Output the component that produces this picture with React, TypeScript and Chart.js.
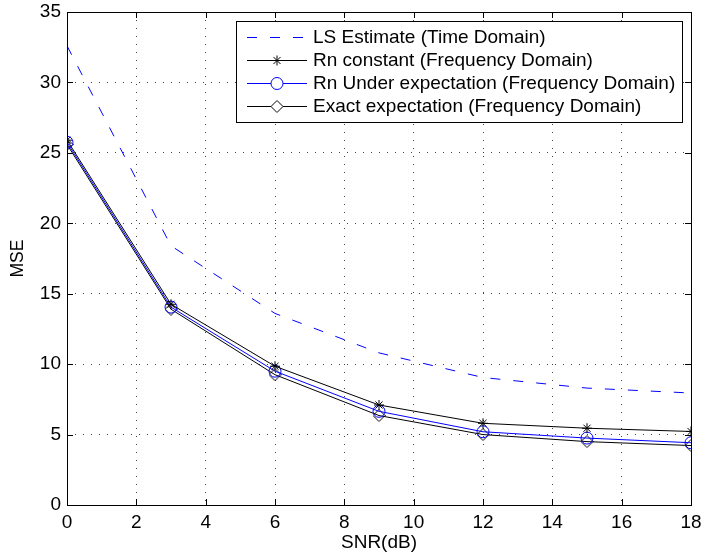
import React, { useEffect, useRef } from "react";
import { Chart, registerables } from "chart.js";

Chart.register(...registerables);

const snr = [0, 3, 6, 9, 12, 15, 18];
const lsEstimate = [32.6, 18.4, 13.6, 10.8, 9.05, 8.3, 7.95];
const rnConstant = [25.9, 14.25, 9.85, 7.1, 5.8, 5.45, 5.22];
const rnUnderExp = [25.75, 14.05, 9.5, 6.65, 5.2, 4.75, 4.42];
const exactExp = [25.6, 13.9, 9.25, 6.35, 5.0, 4.5, 4.22];

const xTicks = [0, 2, 4, 6, 8, 10, 12, 14, 16, 18];
const yTicks = [0, 5, 10, 15, 20, 25, 30, 35];

const seriesLabels = [
  "LS Estimate (Time Domain)",
  "Rn constant (Frequency Domain)",
  "Rn Under expectation (Frequency Domain)",
  "Exact expectation (Frequency Domain)",
];

const FONT = "'Liberation Sans', Arial, sans-serif";

function makeDiamond(): HTMLCanvasElement {
  const c = document.createElement("canvas");
  c.width = 13;
  c.height = 13;
  const ctx = c.getContext("2d")!;
  ctx.strokeStyle = "#000";
  ctx.lineWidth = 1;
  ctx.beginPath();
  ctx.moveTo(6.5, 0.5);
  ctx.lineTo(12.5, 6.5);
  ctx.lineTo(6.5, 12.5);
  ctx.lineTo(0.5, 6.5);
  ctx.closePath();
  ctx.stroke();
  return c;
}

export default function App() {
  const ref = useRef<HTMLCanvasElement | null>(null);

  useEffect(() => {
    if (!ref.current) return;
    const diamond = makeDiamond();

    const framePlugin = {
      id: "frame",
      afterDraw(chart: any) {
        const { ctx, chartArea } = chart;
        const { left, right, top, bottom } = chartArea;
        const xs = chart.scales.x;
        const ys = chart.scales.y;
        ctx.save();
        ctx.strokeStyle = "#000";
        ctx.lineWidth = 1;
        ctx.setLineDash([]);
        const tl = 6;
        ctx.beginPath();
        xTicks.forEach((v) => {
          const px = Math.round(xs.getPixelForValue(v)) + 0.5;
          ctx.moveTo(px, bottom);
          ctx.lineTo(px, bottom - tl);
          ctx.moveTo(px, top);
          ctx.lineTo(px, top + tl);
        });
        yTicks.forEach((v) => {
          const py = Math.round(ys.getPixelForValue(v)) + 0.5;
          ctx.moveTo(left, py);
          ctx.lineTo(left + tl, py);
          ctx.moveTo(right, py);
          ctx.lineTo(right - tl, py);
        });
        ctx.stroke();
        ctx.strokeRect(Math.round(left) + 0.5, Math.round(top) + 0.5, Math.round(right - left), Math.round(bottom - top));

        // legend
        const bx = 236.5, by = 21.5, bw = 446, bh = 101;
        ctx.fillStyle = "#fff";
        ctx.fillRect(bx, by, bw, bh);
        ctx.strokeRect(bx, by, bw, bh);
        const rows = [37, 60, 83, 106];
        const x1 = 247, x2 = 307, xm = 277;
        chart.data.datasets.forEach((ds: any, i: number) => {
          const y = rows[i] + 0.5;
          ctx.save();
          ctx.strokeStyle = ds.borderColor;
          ctx.lineWidth = 1;
          ctx.setLineDash(ds.borderDash || []);
          ctx.beginPath();
          ctx.moveTo(x1, y);
          ctx.lineTo(x2, y);
          ctx.stroke();
          ctx.setLineDash([]);
          if (ds.pointStyle === "star") {
            const r = 5;
            ctx.beginPath();
            for (let k = 0; k < 4; k++) {
              const a = (k * Math.PI) / 4;
              ctx.moveTo(xm - r * Math.cos(a), y - r * Math.sin(a));
              ctx.lineTo(xm + r * Math.cos(a), y + r * Math.sin(a));
            }
            ctx.strokeStyle = ds.pointBorderColor;
            ctx.stroke();
          } else if (ds.pointStyle === "circle") {
            ctx.beginPath();
            ctx.arc(xm, y, 6, 0, Math.PI * 2);
            ctx.fillStyle = "#fff";
            ctx.fill();
            ctx.strokeStyle = ds.pointBorderColor;
            ctx.stroke();
          } else if (ds.pointStyle instanceof HTMLCanvasElement) {
            ctx.fillStyle = "#fff";
            ctx.beginPath();
            ctx.moveTo(xm, y - 6);
            ctx.lineTo(xm + 6, y);
            ctx.lineTo(xm, y + 6);
            ctx.lineTo(xm - 6, y);
            ctx.closePath();
            ctx.fill();
            ctx.drawImage(ds.pointStyle, xm - 6.5, y - 6.5);
          }
          ctx.restore();
          ctx.fillStyle = "#000";
          ctx.font = `19px ${FONT}`;
          ctx.textBaseline = "middle";
          ctx.textAlign = "left";
          ctx.fillText(seriesLabels[i], 313, rows[i] + 1);
        });
        ctx.restore();
      },
    };

    const chart = new Chart(ref.current, {
      type: "line",
      data: {
        datasets: [
          {
            label: seriesLabels[0],
            data: snr.map((x, i) => ({ x, y: lsEstimate[i] })),
            borderColor: "#0000ff",
            borderWidth: 1,
            borderDash: [10, 13],
            pointRadius: 0,
            pointStyle: false as any,
            fill: false,
          },
          {
            label: seriesLabels[1],
            data: snr.map((x, i) => ({ x, y: rnConstant[i] })),
            borderColor: "#000000",
            borderWidth: 1,
            pointStyle: "star",
            pointRadius: 5,
            pointBorderColor: "#000000",
            pointBorderWidth: 1,
            pointBackgroundColor: "#000",
            fill: false,
          },
          {
            label: seriesLabels[2],
            data: snr.map((x, i) => ({ x, y: rnUnderExp[i] })),
            borderColor: "#0000ff",
            borderWidth: 1,
            pointStyle: "circle",
            pointRadius: 6,
            pointBorderColor: "#0000ff",
            pointBorderWidth: 1,
            pointBackgroundColor: "rgba(0,0,0,0)",
            fill: false,
          },
          {
            label: seriesLabels[3],
            data: snr.map((x, i) => ({ x, y: exactExp[i] })),
            borderColor: "#000000",
            borderWidth: 1,
            pointStyle: diamond as any,
            pointRadius: 6,
            pointBorderColor: "#000000",
            fill: false,
          },
        ],
      },
      options: {
        animation: false,
        responsive: true,
        maintainAspectRatio: false,
        layout: { padding: { top: 12, right: 11, left: 0, bottom: 0 } },
        plugins: { legend: { display: false }, tooltip: { enabled: false } },
        elements: { line: { tension: 0 } },
        scales: {
          x: {
            type: "linear",
            min: 0,
            max: 18,
            afterBuildTicks: (s: any) => {
              s.ticks = xTicks.map((v) => ({ value: v }));
            },
            afterFit: (s: any) => {
              s.height = 53;
              s.paddingLeft = 0;
              s.paddingRight = 0;
            },
            ticks: {
              autoSkip: false,
              maxRotation: 0,
              padding: 6,
              color: "#000",
              font: { family: FONT, size: 19 },
            },
            grid: {
              color: "rgba(0,0,0,0.75)",
              lineWidth: 1,
              drawTicks: false,
            },
            border: { display: false, dash: [1, 7] },
            title: {
              display: true,
              text: "SNR(dB)",
              color: "#000",
              font: { family: FONT, size: 19 },
              padding: { top: 0, bottom: 4 },
            },
          },
          y: {
            type: "linear",
            min: 0,
            max: 35,
            afterBuildTicks: (s: any) => {
              s.ticks = yTicks.map((v) => ({ value: v }));
            },
            afterFit: (s: any) => {
              s.width = 67;
              s.paddingTop = 0;
              s.paddingBottom = 0;
            },
            ticks: {
              padding: 6,
              color: "#000",
              font: { family: FONT, size: 19 },
            },
            grid: {
              color: "rgba(0,0,0,0.75)",
              lineWidth: 1,
              drawTicks: false,
            },
            border: { display: false, dash: [1, 7] },
            title: {
              display: true,
              text: "MSE",
              color: "#000",
              font: { family: FONT, size: 17.5 },
              padding: { top: 8, bottom: 0 },
            },
          },
        },
      },
      plugins: [framePlugin],
    });
    return () => chart.destroy();
  }, []);

  return (
    <div style={{ position: "absolute", left: 0, top: 0, width: 702, height: 558, background: "#fff" }}>
      <canvas ref={ref} />
    </div>
  );
}
